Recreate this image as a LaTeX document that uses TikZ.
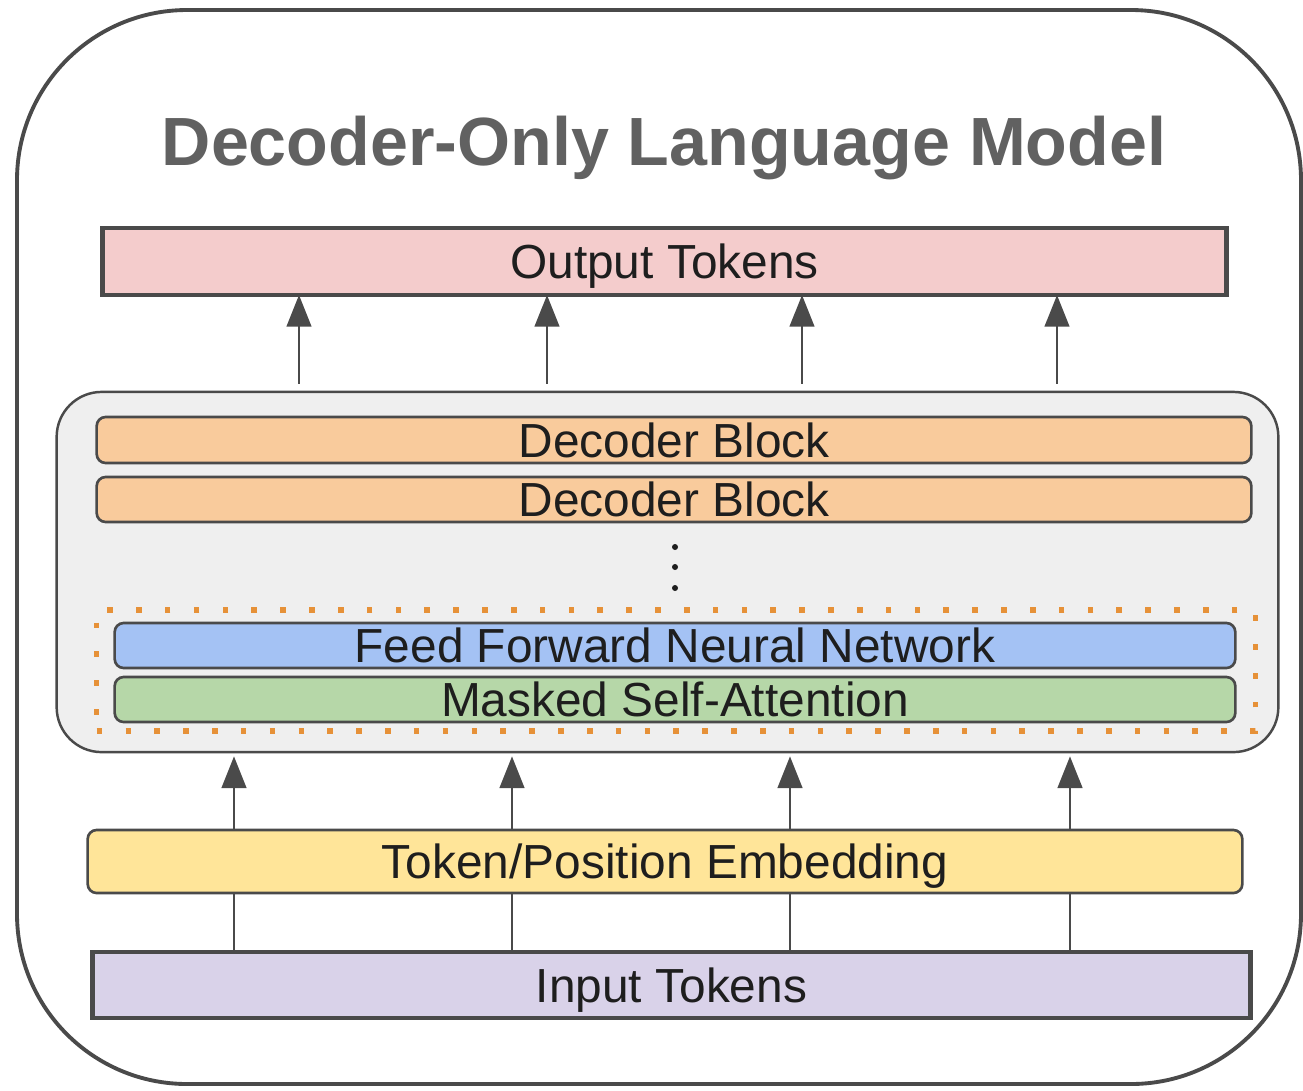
\documentclass[tikz,border=0pt]{standalone}
\usepackage{fontspec}
\setmainfont{Liberation Sans}
\usetikzlibrary{arrows.meta,calc}

\definecolor{edge}{HTML}{4A4A4A}
\definecolor{titlegray}{HTML}{616161}
\definecolor{txt}{HTML}{1E1E1E}
\definecolor{pinkfill}{HTML}{F4CCCC}
\definecolor{orangefill}{HTML}{F9CB9C}
\definecolor{bluefill}{HTML}{A4C2F4}
\definecolor{greenfill}{HTML}{B6D7A8}
\definecolor{yellowfill}{HTML}{FFE599}
\definecolor{purplefill}{HTML}{D9D2E9}
\definecolor{panelfill}{HTML}{EFEFEF}
\definecolor{dotorange}{HTML}{E69138}

\tikzset{
  boxlabel/.style={font=\fontsize{13.6pt}{16pt}\selectfont, text=txt, inner sep=0pt,
                   outer sep=0pt, text depth=0pt},
  tokenbox/.style={boxlabel, draw=edge, line width=1.3pt},
  layerbox/.style={boxlabel, draw=edge, line width=0.75pt, rounded corners=0.09cm},
  flowarrow/.style={draw=edge, line width=0.7pt, -{Triangle[width=7pt,length=9pt]}},
  flowline/.style={draw=edge, line width=0.7pt},
}

\begin{document}
\begin{tikzpicture}[x=0.01cm, y=-0.01cm]
  \useasboundingbox (0,0) rectangle (1303,1090);

  % outer frame
  \draw[edge, line width=1.1pt, rounded corners=1.7cm] (17,10) rectangle (1301,1084);

  % title
  \node[font=\bfseries\fontsize{19.4pt}{23pt}\selectfont, text=titlegray, anchor=base]
    (title) at (664,165) {Decoder-Only Language Model};

  % output tokens
  \node[tokenbox, fill=pinkfill, minimum width=11.23cm, minimum height=0.67cm]
    (out) at (664.5,261.5) {Output Tokens};

  % stack of decoder blocks
  \node[draw=edge, fill=panelfill, line width=0.7pt, rounded corners=0.45cm,
        minimum width=12.21cm, minimum height=3.60cm, inner sep=0pt]
    (panel) at (667.5,572) {};

  \node[layerbox, fill=orangefill, minimum width=11.54cm, minimum height=0.46cm]
    (dec1) at (674,440) {Decoder Block};
  \node[layerbox, fill=orangefill, minimum width=11.54cm, minimum height=0.45cm]
    (dec2) at (674,499.5) {Decoder Block};

  \foreach \yy [count=\i] in {547,567,588}
    \fill[txt] (675,\yy) circle[radius=0.03cm];

  % one block, expanded
  \node[draw=dotorange, line width=1.6pt, dash pattern=on 1.6pt off 6.6pt,
        minimum width=11.58cm, minimum height=1.21cm, inner sep=0pt]
    (block) at (676,670.5) {};
  \node[layerbox, fill=bluefill, minimum width=11.20cm, minimum height=0.45cm]
    (ffnn) at (675,645.5) {Feed Forward Neural Network};
  \node[layerbox, fill=greenfill, minimum width=11.20cm, minimum height=0.45cm]
    (msa) at (675,699.5) {Masked Self-Attention};

  % embedding and input tokens
  \node[layerbox, fill=yellowfill, minimum width=11.54cm, minimum height=0.63cm]
    (emb) at (665,861.5) {Token/Position Embedding};
  \node[tokenbox, fill=purplefill, minimum width=11.57cm, minimum height=0.66cm]
    (inp) at (671.5,985) {Input Tokens};

  % token columns
  \foreach \xx [count=\i] in {299,547,802,1057}
    \coordinate (up\i) at (\xx,0);
  \foreach \xx [count=\i] in {234,512,790,1070}
    \coordinate (lo\i) at (\xx,0);

  % connectors
  \foreach \i in {1,...,4}{
    \draw[flowarrow] ($(panel.north -| up\i)+(0,-7)$) -- (out.south -| up\i);
    \draw[flowarrow] (emb.north -| lo\i) -- ($(panel.south -| lo\i)+(0,3)$);
    \draw[flowline] (inp.north -| lo\i) -- (emb.south -| lo\i);
  }
\end{tikzpicture}
\end{document}
